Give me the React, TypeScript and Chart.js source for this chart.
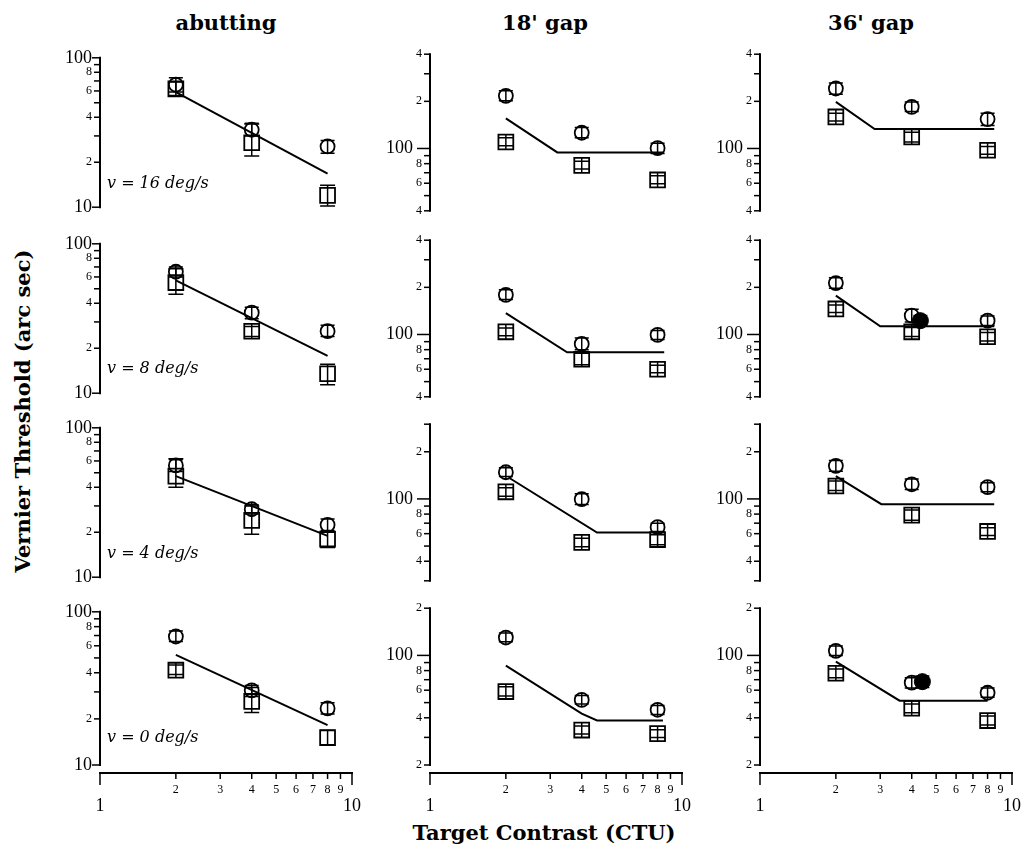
import React, { useEffect, useRef } from 'react';
import { Chart, registerables } from 'chart.js';

Chart.register(...registerables);

// ---------------- DATA ----------------
const columnTitles = ['abutting', "18' gap", "36' gap"];
const velocityLabels = ['v = 16 deg/s', 'v = 8 deg/s', 'v = 4 deg/s', 'v = 0 deg/s'];
const yAxisTitle = 'Vernier Threshold (arc sec)';
const xAxisTitle = 'Target Contrast (CTU)';

const contrasts = [2, 4, 8];

// y-axis ranges: [column][row] = [min, max]
const yRanges = [
  [[10, 100], [10, 100], [10, 100], [10, 100]],
  [[40, 400], [40, 400], [30, 300], [20, 200]],
  [[40, 400], [40, 400], [30, 300], [20, 200]],
];

// y tick values and labels
const abutTickValues = [10, 20, 30, 40, 50, 60, 70, 80, 90, 100];
const abutTickLabels = ['10', '2', '', '4', '', '6', '', '8', '', '100'];
const gapTickValues = [
  [40, 50, 60, 70, 80, 90, 100, 200, 300, 400],
  [40, 50, 60, 70, 80, 90, 100, 200, 300, 400],
  [30, 40, 50, 60, 70, 80, 90, 100, 200, 300],
  [20, 30, 40, 50, 60, 70, 80, 90, 100, 200],
];
const gapTickLabels = [
  ['4', '', '6', '', '8', '', '100', '2', '', '4'],
  ['4', '', '6', '', '8', '', '100', '2', '', '4'],
  ['', '4', '', '6', '', '8', '', '100', '2', ''],
  ['2', '', '4', '', '6', '', '8', '', '100', '2'],
];

const xTickValues = [1, 2, 3, 4, 5, 6, 7, 8, 9, 10];
const xTickLabels = ['1', '2', '3', '4', '5', '6', '7', '8', '9', '10'];

// Open circles: [column][row][contrast]
const circleVals = [
  [[66, 33, 25.5], [65, 34.6, 26], [56, 28.5, 22.4], [69, 30.7, 23.4]],
  [[217, 126, 100.5], [179, 87, 99.5], [148, 99.6, 66], [130, 52, 45]],
  [[241.6, 184.5, 154], [213, 132, 122.5], [162.6, 124, 119], [107, 67, 57.8]],
];
const circleLo = [
  [[59, 30, 23], [60, 31.5, 24], [51, 26.5, 20.5], [64, 28, 21.5]],
  [[202, 117, 93], [167, 80, 93], [139, 92, 62], [122, 49, 42]],
  [[222, 172, 140], [197, 120, 114], [150, 115, 111], [100, 62, 54]],
];
const circleHi = [
  [[73.5, 36.5, 28], [70, 37.6, 28.5], [61, 30.5, 24.5], [75, 33, 25.5]],
  [[234, 136, 108], [193, 95, 106], [158, 108, 70], [139, 55.5, 48]],
  [[262, 198, 168], [230, 145, 131], [176, 134, 127], [115, 72, 62]],
];

// Open squares: [column][row][contrast]
const squareVals = [
  [[62, 27, 12], [55, 26, 13.5], [47.5, 24, 18], [41.6, 26, 15.1]],
  [[110, 78, 63], [104, 69.5, 60], [111, 52.8, 55], [58.8, 33.4, 31.7]],
  [[159, 118.6, 97.5], [145.6, 104, 96.7], [121, 78.8, 62], [77, 46, 38.4]],
];
const squareLo = [
  [[56, 22, 10.2], [46, 24, 11.4], [40, 19.4, 15.8], [39, 22, 13.5]],
  [[104, 74, 59.5], [98, 64, 57], [104, 49.5, 51], [55, 31.5, 30]],
  [[150, 110, 92], [138, 97, 91], [113, 73, 58.5], [72, 43, 36]],
];
const squareHi = [
  [[69, 36, 14], [68, 28, 15.6], [62, 30, 20], [45, 32, 16.8]],
  [[117, 83, 67], [110, 76, 63.5], [118, 56, 59], [63, 35.5, 33.5]],
  [[168, 127, 103], [154, 111, 103], [130, 85, 65.5], [82, 49, 41]],
];

// Filled circles (36' gap column only): [row] -> point or null
const filledX = [null, 4.33, null, 4.41];
const filledY = [null, 122.5, null, 68];
const filledLo = [null, 114, null, 62.5];
const filledHi = [null, 132, null, 74];

// Fitted lines: [column][row]
const fitX = [
  [[2, 8], [2, 8], [2, 8], [2, 8]],
  [[2, 3.2, 8.5], [2, 3.5, 8.5], [2.05, 4.6, 8.5], [2, 4, 4.6, 8.4]],
  [[2, 2.85, 8.5], [2, 3.0, 8.5], [2, 3.03, 8.5], [2, 3.58, 8.0]],
];
const fitY = [
  [[59, 16.8], [57, 17.8], [47.5, 18.9], [52.4, 18.2]],
  [[155.5, 94.4, 94.4], [137, 77, 77], [137, 61, 61], [86, 42.5, 38.5, 38.5]],
  [[198.5, 133, 133], [177, 112.7, 112.7], [140, 92.6, 92.6], [91.4, 51.4, 51.4]],
];

// ---------------- LAYOUT ----------------
const COL_X = [100, 430, 760];
const ROW_TOP = [54, 240, 424, 608];
const PLOT_W = 252;
const PLOT_H = 157;
const Y_AXIS_W = 50;
const PAD_R = 20;
const PAD_T = 15;
const PAD_B = 15;
const X_AXIS_H = 60;
const X_GAP = 8;
const MAJOR_TICK_LEN = [8, 13, 13];
const MAJOR_LABEL_SUFFIX = ['', '\u2002', '\u2002'];

const TICK_FONT = "'Liberation Serif', 'Times New Roman', serif";
const TITLE_FONT = "'DejaVu Serif', serif";

const isMajor = (v: number) => v === 1 || v === 10 || v === 100;

function Panel({ col, row }: { col: number; row: number }) {
  const ref = useRef<HTMLCanvasElement>(null);
  const isBottom = row === 3;
  const w = Y_AXIS_W + PLOT_W + PAD_R;
  const h = PAD_T + PLOT_H + (isBottom ? X_AXIS_H : PAD_B);

  useEffect(() => {
    const canvas = ref.current;
    if (!canvas) return;
    const [yMin, yMax] = yRanges[col][row];
    const yTicks = col === 0 ? abutTickValues : gapTickValues[row];
    const yLabels = col === 0 ? abutTickLabels : gapTickLabels[row];

    const axesPlugin = {
      id: 'panelAxes',
      afterDraw(chart: any) {
        const { ctx, chartArea: ca, scales } = chart;
        const ys = scales.y;
        const xs = scales.x;
        ctx.save();
        ctx.strokeStyle = '#000';
        ctx.lineWidth = 2;
        const top = ys.getPixelForValue(yMax);
        const bot = ys.getPixelForValue(yMin);
        ctx.beginPath();
        ctx.moveTo(ca.left, top - 1);
        ctx.lineTo(ca.left, bot + 1);
        ctx.stroke();
        ctx.lineWidth = 1.5;
        yTicks.forEach((v: number) => {
          const py = ys.getPixelForValue(v);
          const len = isMajor(v) ? MAJOR_TICK_LEN[col] : 6;
          ctx.beginPath();
          ctx.moveTo(ca.left - len, py);
          ctx.lineTo(ca.left, py);
          ctx.stroke();
        });
        if (isBottom) {
          const base = ca.bottom + X_GAP;
          ctx.lineWidth = 2;
          ctx.beginPath();
          ctx.moveTo(xs.getPixelForValue(1) - 1, base);
          ctx.lineTo(xs.getPixelForValue(10) + 1, base);
          ctx.stroke();
          ctx.lineWidth = 1.5;
          xTickValues.forEach((v) => {
            const px = xs.getPixelForValue(v);
            const len = isMajor(v) ? 12 : 6;
            ctx.beginPath();
            ctx.moveTo(px, base);
            ctx.lineTo(px, base + len);
            ctx.stroke();
          });
        }
        ctx.restore();
      },
    };

    const errorPlugin = {
      id: 'errorBars',
      afterDatasetsDraw(chart: any) {
        const { ctx, scales } = chart;
        const xs = scales.x;
        const ys = scales.y;
        ctx.save();
        ctx.strokeStyle = '#000';
        ctx.lineWidth = 1.5;
        chart.data.datasets.forEach((ds: any) => {
          if (!ds.errLo) return;
          ds.data.forEach((p: any, i: number) => {
            const px = xs.getPixelForValue(p.x);
            const pc = ys.getPixelForValue(p.y);
            const lo = ys.getPixelForValue(ds.errLo[i]);
            const hi = ys.getPixelForValue(ds.errHi[i]);
            const half = ds.markHalf;
            ctx.beginPath();
            ctx.moveTo(px, Math.min(hi, pc - half));
            ctx.lineTo(px, Math.max(lo, pc + half));
            ctx.stroke();
            ctx.beginPath();
            ctx.moveTo(px - ds.capHalf, hi);
            ctx.lineTo(px + ds.capHalf, hi);
            ctx.moveTo(px - ds.capHalf, lo);
            ctx.lineTo(px + ds.capHalf, lo);
            ctx.stroke();
          });
        });
        ctx.restore();
      },
    };

    const datasets: any[] = [
      {
        label: 'fit',
        data: fitX[col][row].map((x, i) => ({ x, y: fitY[col][row][i] })),
        showLine: true,
        borderColor: '#000',
        borderWidth: 2,
        pointRadius: 0,
        order: 4,
      },
      {
        label: 'squares',
        data: contrasts.map((x, i) => ({ x, y: squareVals[col][row][i] })),
        pointStyle: 'rect',
        pointRadius: 10.5,
        borderWidth: 1.8,
        borderColor: '#000',
        backgroundColor: 'rgba(0,0,0,0)',
        errLo: squareLo[col][row],
        errHi: squareHi[col][row],
        markHalf: 7.4,
        capHalf: 7.5,
        order: 3,
      },
      {
        label: 'circles',
        data: contrasts.map((x, i) => ({ x, y: circleVals[col][row][i] })),
        pointStyle: 'circle',
        pointRadius: 7,
        borderWidth: 1.8,
        borderColor: '#000',
        backgroundColor: 'rgba(0,0,0,0)',
        errLo: circleLo[col][row],
        errHi: circleHi[col][row],
        markHalf: 7,
        capHalf: 7,
        order: 2,
      },
    ];
    if (col === 2 && filledX[row] !== null) {
      datasets.push({
        label: 'filled',
        data: [{ x: filledX[row], y: filledY[row] }],
        pointStyle: 'circle',
        pointRadius: 8,
        borderWidth: 1,
        borderColor: '#000',
        backgroundColor: '#000',
        errLo: [filledLo[row]],
        errHi: [filledHi[row]],
        markHalf: 8,
        capHalf: 7,
        order: 1,
      });
    }

    const chart = new Chart(canvas, {
      type: 'scatter',
      data: { datasets },
      options: {
        animation: false,
        responsive: false,
        maintainAspectRatio: false,
        devicePixelRatio: 1,
        layout: { padding: { left: 0, right: PAD_R, top: PAD_T, bottom: isBottom ? 0 : PAD_B } },
        plugins: { legend: { display: false }, tooltip: { enabled: false } },
        scales: {
          x: {
            type: 'logarithmic',
            min: 1,
            max: 10,
            display: isBottom,
            grid: { display: false, drawTicks: false, drawOnChartArea: false },
            border: { display: false },
            afterBuildTicks: (scale: any) => {
              scale.ticks = xTickValues.map((v) => ({ value: v, major: isMajor(v) }));
            },
            afterFit: (scale: any) => {
              if (isBottom) scale.height = X_AXIS_H;
              scale.paddingLeft = 0;
              scale.paddingRight = 0;
            },
            ticks: {
              autoSkip: false,
              maxRotation: 0,
              minRotation: 0,
              padding: 18,
              color: '#000',
              callback: (_v: any, i: number) => (isMajor(xTickValues[i]) ? ['', xTickLabels[i]] : xTickLabels[i]),
              font: (ctx: any) =>
                ctx.tick && isMajor(ctx.tick.value)
                  ? { family: TICK_FONT, size: 18, lineHeight: 0.85 }
                  : { family: TICK_FONT, size: 12, lineHeight: 1.2 },
            },
          },
          y: {
            type: 'logarithmic',
            min: yMin,
            max: yMax,
            grid: { display: false, drawTicks: false, drawOnChartArea: false },
            border: { display: false },
            afterBuildTicks: (scale: any) => {
              scale.ticks = yTicks.map((v: number) => ({ value: v, major: isMajor(v) }));
            },
            afterFit: (scale: any) => {
              scale.width = Y_AXIS_W;
            },
            ticks: {
              autoSkip: false,
              padding: 8,
              color: '#000',
              callback: (_v: any, i: number) =>
                isMajor(yTicks[i]) ? yLabels[i] + MAJOR_LABEL_SUFFIX[col] : yLabels[i],
              font: (ctx: any) =>
                ctx.tick && isMajor(ctx.tick.value)
                  ? { family: TICK_FONT, size: 18 }
                  : { family: TICK_FONT, size: 12 },
            },
          },
        },
      } as any,
      plugins: [axesPlugin, errorPlugin],
    });
    return () => chart.destroy();
  }, [col, row, isBottom]);

  return (
    <canvas
      ref={ref}
      width={w}
      height={h}
      style={{ position: 'absolute', left: COL_X[col] - Y_AXIS_W, top: ROW_TOP[row] - PAD_T, width: w, height: h }}
    />
  );
}

const titleStyle: React.CSSProperties = {
  position: 'absolute',
  fontFamily: TITLE_FONT,
  fontWeight: 'bold',
  fontSize: 21,
  color: '#000',
  whiteSpace: 'nowrap',
  transform: 'translate(-50%, -50%)',
  lineHeight: 1,
};

const titleCenters = [226, 545, 871];
const velocityCenterY = [183, 368, 553, 737];

export default function App() {
  const panels: JSX.Element[] = [];
  for (let c = 0; c < 3; c++) {
    for (let r = 0; r < 4; r++) {
      panels.push(<Panel key={`${c}-${r}`} col={c} row={r} />);
    }
  }
  return (
    <div
      style={{
        position: 'fixed',
        left: 0,
        top: 0,
        width: 1023,
        height: 848,
        background: '#fff',
        overflow: 'hidden',
      }}
    >
      {columnTitles.map((t, i) => (
        <div key={t} style={{ ...titleStyle, left: titleCenters[i], top: 22 }}>
          {t}
        </div>
      ))}
      <div style={{ ...titleStyle, fontSize: 21, left: 22, top: 411, transform: 'translate(-50%, -50%) rotate(-90deg)' }}>
        {yAxisTitle}
      </div>
      <div style={{ ...titleStyle, fontSize: 21, left: 544, top: 832 }}>{xAxisTitle}</div>
      {panels}
      {velocityLabels.map((t, i) => (
        <div
          key={t}
          style={{
            position: 'absolute',
            left: 107,
            top: velocityCenterY[i],
            transform: 'translateY(-50%)',
            fontFamily: TITLE_FONT,
            fontStyle: 'italic',
            fontSize: 16,
            lineHeight: 1,
            whiteSpace: 'nowrap',
            color: '#000',
          }}
        >
          {t}
        </div>
      ))}
    </div>
  );
}
